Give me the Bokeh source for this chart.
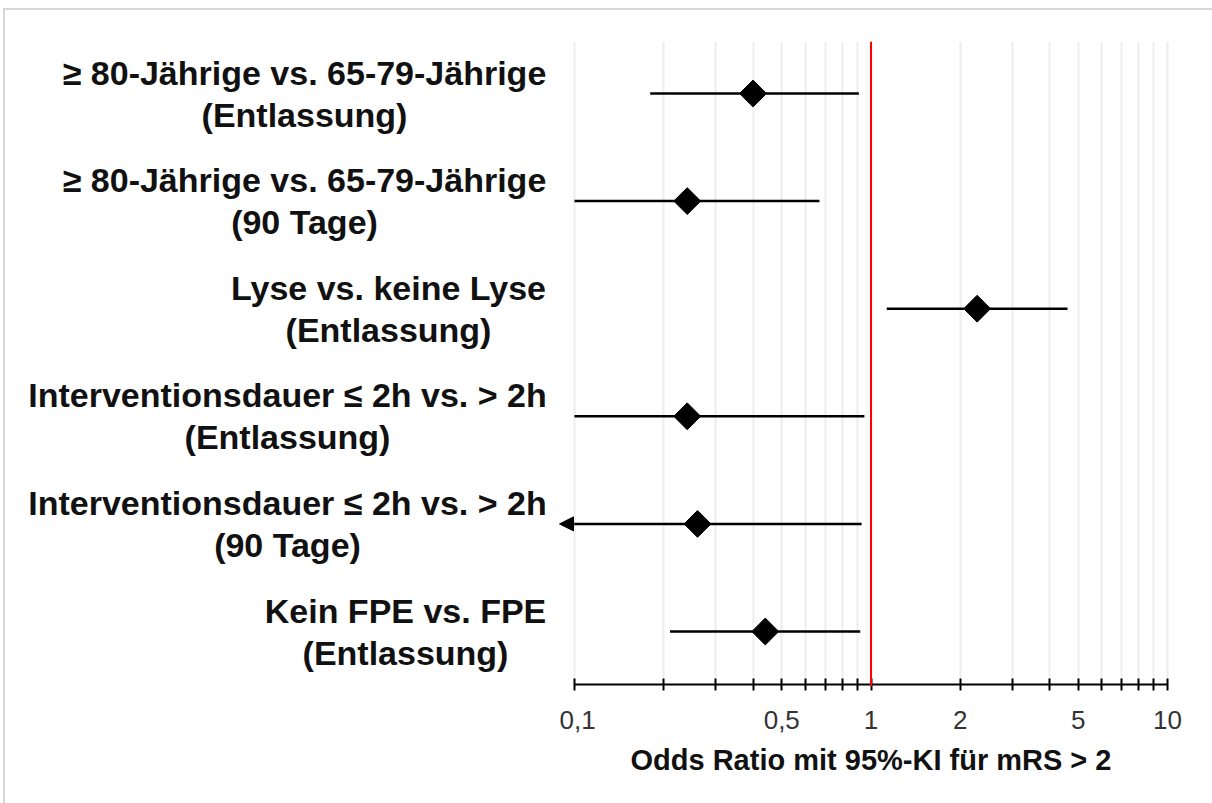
import math
from bokeh.plotting import figure
from bokeh.layouts import row
from bokeh.models import (Range1d, FixedTicker, Span, Arrow, NormalHead,
                          ColumnDataSource)
from bokeh.core.properties import value
from bokeh.embed import file_html
from bokeh.resources import INLINE

# ---------------- data ----------------
labels_line1 = [
    "≥ 80-Jährige vs. 65-79-Jährige",
    "≥ 80-Jährige vs. 65-79-Jährige",
    "Lyse vs. keine Lyse",
    "Interventionsdauer ≤ 2h vs. > 2h",
    "Interventionsdauer ≤ 2h vs. > 2h",
    "Kein FPE vs. FPE",
]
labels_line2 = [
    "(Entlassung)",
    "(90 Tage)",
    "(Entlassung)",
    "(Entlassung)",
    "(90 Tage)",
    "(Entlassung)",
]
odds_ratio = [0.40, 0.24, 2.28, 0.24, 0.26, 0.44]
ci_lower = [0.18, 0.10, 1.13, 0.10, 0.10, 0.21]
ci_upper = [0.91, 0.67, 4.60, 0.95, 0.93, 0.92]
ci_truncated = [False, False, False, False, True, False]  # lower bound below axis -> arrow

tick_values = [0.1, 0.2, 0.3, 0.4, 0.5, 0.6, 0.7, 0.8, 0.9,
               1, 2, 3, 4, 5, 6, 7, 8, 9, 10]
tick_labels = {0.1: "0,1", 0.5: "0,5", 1: "1", 2: "2", 5: "5", 10: "10"}
x_title = "Odds Ratio mit 95%-KI für mRS > 2"

X_MIN, X_MAX = 0.1, 10

# ---------------- layout constants ----------------
FONT = "Liberation Sans"
H = 793
LEFT_W, MAIN_W = 554, 653
DECADE_PX = 296.5
ROW_PX = 107.6
PAD_PX = 15                      # room for the arrow tip past the axis start (mirrored right)
n = len(odds_ratio)
ypos = [n - 1 - i for i in range(n)]   # first row at the top

Y0 = -55 / ROW_PX
Y1 = n - 1 + 52 / ROW_PX
AXIS_Y = Y0 + 2 / ROW_PX
x_lo = X_MIN * 10 ** (-PAD_PX / DECADE_PX)
x_hi = X_MAX * 10 ** (PAD_PX / DECADE_PX)
frame_w = int(round(2 * PAD_PX + 2 * DECADE_PX))
yr = Range1d(Y0, Y1)

# ---------------- left panel: category labels ----------------
left = figure(width=LEFT_W, height=H, x_range=Range1d(0, LEFT_W), y_range=yr,
              output_backend="svg", toolbar_location=None,
              min_border_left=0, min_border_right=0,
              min_border_top=31, min_border_bottom=117)
left.axis.visible = False
left.grid.visible = False
left.outline_line_color = None

label_centers = [299, 299, 383, 282, 282, 400]
lab_src = ColumnDataSource(dict(x=label_centers, y=ypos, t1=labels_line1, t2=labels_line2))
for col, off in (("t1", -21), ("t2", 21)):
    left.text(x="x", y="y", text=col, source=lab_src, y_offset=off,
              text_align="center", text_baseline="middle",
              text_font=value(FONT), text_font_style="bold",
              text_font_size="34px", text_color="#111111")

# ---------------- main panel: forest plot ----------------
p = figure(width=MAIN_W, height=H, x_axis_type="log",
           x_range=Range1d(x_lo, x_hi), y_range=yr,
           output_backend="svg", toolbar_location=None,
           min_border_left=0, min_border_right=MAIN_W - frame_w,
           min_border_top=31, min_border_bottom=117)
p.outline_line_color = None
p.yaxis.visible = False
p.ygrid.grid_line_color = None

p.xgrid.ticker = FixedTicker(ticks=tick_values)
p.xgrid.grid_line_color = "#ededed"
p.xgrid.grid_line_width = 2
p.xgrid.minor_grid_line_color = None

ax = p.xaxis[0]
ax.ticker = FixedTicker(ticks=tick_values, minor_ticks=[])
ax.major_label_overrides = {t: tick_labels.get(t, "") for t in tick_values}
ax.axis_line_color = None
ax.major_tick_line_color = "black"
ax.major_tick_line_width = 2
ax.major_tick_in = 8
ax.major_tick_out = 4
ax.minor_tick_line_color = None
ax.major_label_text_font = FONT
ax.major_label_text_font_size = "26px"
ax.major_label_text_color = "#333333"
ax.major_label_standoff = 20
ax.axis_label = x_title
ax.axis_label_text_font = FONT
ax.axis_label_text_font_style = "bold"
ax.axis_label_text_font_size = "29px"
ax.axis_label_text_color = "#111111"
ax.axis_label_standoff = 12

# axis line spanning exactly the axis range
p.segment(x0=[X_MIN], y0=[AXIS_Y], x1=[X_MAX], y1=[AXIS_Y], line_color="black", line_width=2)

# reference line at OR = 1
p.add_layout(Span(location=1, dimension="height", line_color="#ff0000", line_width=2))

src = ColumnDataSource(dict(y=ypos, or_=odds_ratio, lo=ci_lower, hi=ci_upper))
p.segment(x0="lo", y0="y", x1="hi", y1="y", source=src, line_color="black", line_width=2.5)
p.scatter(x="or_", y="y", source=src, marker="square", size=19, angle=math.pi / 4,
          fill_color="black", line_color="black")

# truncated lower bound: arrow continuing past the axis start
for i, trunc in enumerate(ci_truncated):
    if trunc:
        p.add_layout(Arrow(end=NormalHead(size=14, fill_color="black",
                                          line_color="black", line_width=1),
                           x_start=ci_lower[i], y_start=ypos[i], x_end=x_lo, y_end=ypos[i],
                           line_color="black", line_width=2.5))

layout = row(left, p, spacing=0,
             styles={"border-left": "2px solid #d6d6d6",
                     "border-top": "2px solid #d6d6d6",
                     "margin-left": "3px", "margin-top": "8px"})

open("out.html", "w").write(file_html(layout, INLINE))
